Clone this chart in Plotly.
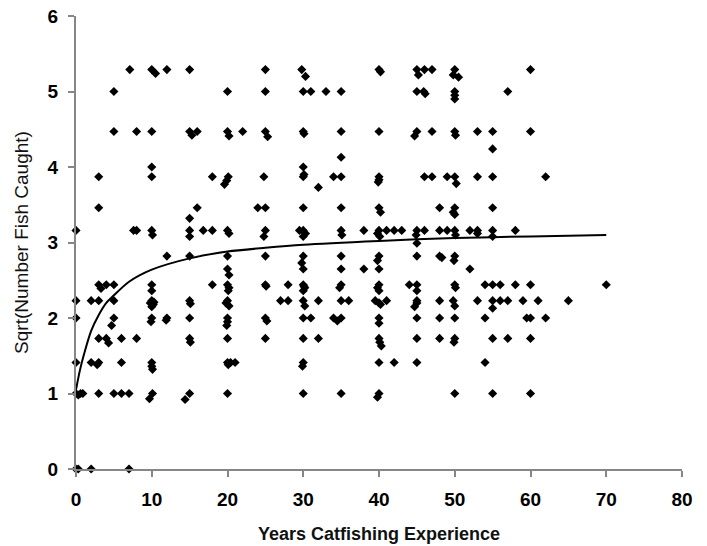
import plotly.graph_objects as go

# (years experience, sqrt(number of fish caught))
points_0_9 = [
    (0, 0), (0.3, 0), (0, 1.0), (0.3, 0.98), (0.6, 1.0), (0.9, 1.0), (0, 1.41), (0, 2.0), (0, 2.23), (0, 3.16),
    (2, 0), (2, 1.41), (2, 2.23),
    (3, 1.0), (2.8, 1.38), (3, 1.41), (3, 1.73), (3, 2.23), (3, 2.44), (3.3, 2.39), (3, 3.46), (3, 3.87),
    (4, 1.73), (4.3, 1.67), (4, 2.44), (4.7, 1.9),
    (5, 1.0), (5, 2.0), (5, 2.23), (5, 2.44), (5, 4.47), (5, 5.0),
    (6, 1.0), (6, 1.41), (6, 1.73),
    (7, 0), (7, 1.0), (7.1, 5.29), (7.6, 3.16),
    (8, 1.73), (8, 3.16), (8, 4.47),
]
points_10_19 = [
    (10, 5.29), (10.5, 5.24), (10, 4.47), (10, 4.0), (10, 3.87), (10, 3.16), (10.1, 3.1), (10, 2.44), (10, 2.36),
    (10, 2.23), (9.8, 2.2), (10.2, 2.18), (10, 2.15), (10.3, 2.21), (10, 2.0), (9.9, 1.95), (10, 1.41), (10, 1.36),
    (10.1, 1.32), (10.1, 1.0), (9.7, 0.93),
    (12, 5.29), (12, 2.82), (12, 2.0), (11.9, 1.97),
    (15, 5.29), (15, 4.47), (15.3, 4.42), (15, 3.32), (15, 3.16), (15, 3.08), (15, 2.82), (15, 2.23), (15.1, 2.19),
    (15, 2.0), (15, 1.73), (15.1, 1.68), (15, 1.0), (14.4, 0.92),
    (16, 4.47), (16, 3.46), (16.8, 3.16),
    (18, 3.87), (18, 3.16), (18, 2.44),
]
points_20_29 = [
    (20, 5.0), (20, 4.47), (20.2, 4.41), (19.6, 3.77), (19.9, 3.82), (20.1, 3.87), (20, 3.16), (20.2, 3.12),
    (20, 2.82), (20, 2.65), (20.2, 2.57), (20, 2.44), (20.2, 2.4), (20.1, 2.36), (20, 2.23), (19.8, 2.2),
    (20.2, 2.16), (20, 2.0), (20, 1.95), (19.9, 1.9), (20, 1.73), (20, 1.41), (20.1, 1.38), (20.4, 1.41),
    (21, 1.41), (20, 1.0),
    (22, 4.47), (24, 3.46),
    (25, 5.29), (25, 5.0), (25, 4.47), (25.3, 4.4), (24.8, 3.87), (25, 3.46), (25, 3.16), (24.8, 3.08),
    (25, 2.82), (25, 2.44), (25.1, 2.42), (25, 2.0), (25.2, 1.96), (25, 1.73),
    (27, 2.23), (28, 2.44), (28, 2.23),
]
points_30_39 = [
    (29.8, 5.29), (30.3, 5.2), (30, 5.0), (30, 4.47), (30.1, 4.44), (30, 4.0), (30.1, 3.9), (30, 3.87),
    (30, 3.46), (29.5, 3.16), (30, 3.16), (30.3, 3.12), (30, 3.08), (30, 2.82), (29.8, 2.73), (30, 2.65),
    (30, 2.44), (30.2, 2.4), (30, 2.36), (30.1, 2.42), (30, 2.23), (30.2, 2.16), (30, 2.0), (30, 1.73),
    (30, 1.41), (29.9, 1.36), (30, 1.0),
    (31, 5.0), (31, 2.0), (32, 3.73), (32, 2.23), (32, 1.73), (33, 5.0),
    (34, 3.87), (34, 2.0), (34.5, 1.96),
    (35, 5.0), (35, 4.47), (35, 4.13), (35, 3.87), (35, 3.46), (35, 3.16), (35.1, 3.1), (35, 2.82), (35, 2.65),
    (35, 2.44), (34.8, 2.4), (35, 2.23), (35, 2.0), (35, 1.0),
    (36, 2.23), (38, 3.16), (38, 2.65),
]
points_40_49 = [
    (40, 5.29), (40.2, 5.26), (40, 4.47), (40, 3.87), (40, 3.83), (39.9, 3.8), (40, 3.46), (40.2, 3.4),
    (40, 3.16), (39.8, 3.12), (40.1, 3.08), (40, 2.82), (39.8, 2.76), (40, 2.65), (40, 2.44), (39.8, 2.4),
    (40, 2.36), (39.5, 2.23), (40, 2.2), (40.2, 2.18), (40, 2.0), (40, 1.93), (40, 1.73), (40.1, 1.68),
    (40.3, 1.63), (40, 1.41), (40, 1.0), (39.8, 0.95),
    (41, 3.16), (41, 2.23), (42, 3.16), (42, 1.41), (43, 3.16),
    (44, 2.44), (44.7, 4.41), (44.7, 2.15),
    (45, 5.29), (45.2, 5.22), (45, 5.0), (45, 4.47), (45, 3.16), (44.9, 3.1), (45, 2.99), (45, 2.82),
    (45, 2.44), (45, 2.36), (45, 2.23), (45, 2.2), (45, 2.0), (45, 1.73), (45, 1.41),
    (46, 5.29), (45.9, 5.0), (46.1, 4.97), (46, 3.87), (46, 3.16),
    (47, 5.29), (47, 4.47), (47, 3.87),
    (48, 3.46), (48, 3.16), (48, 2.82), (48.3, 2.8), (48, 2.23), (48, 2.0), (48, 1.73),
    (49, 3.87), (49, 3.16),
]
points_50_70 = [
    (50, 5.29), (49.8, 5.22), (50.5, 5.19), (50, 5.0), (50, 4.95), (50, 4.9), (50, 4.47), (50.1, 4.42),
    (50, 3.87), (50.2, 3.78), (50, 3.46), (50, 3.37), (49.8, 3.4), (50, 3.16), (50.1, 3.1), (50, 2.82),
    (49.9, 2.76), (50, 2.44), (50.1, 2.4), (49.8, 2.23), (50, 2.16), (50, 2.0), (50, 1.73), (49.9, 1.68),
    (50, 1.0),
    (52, 3.16), (52, 2.65),
    (53, 4.47), (53, 3.87), (53, 3.16), (53, 3.12), (53, 2.23),
    (54, 2.44), (54, 2.0), (54, 1.41),
    (55, 4.47), (55, 4.24), (55, 3.87), (55, 3.46), (55, 3.16), (55, 3.08), (55, 2.44), (55, 2.23),
    (55, 2.13), (55, 1.73), (55, 1.0),
    (56, 2.44), (56, 2.23), (57, 5.0), (57, 2.23), (57, 1.73), (58, 3.16), (58, 2.44),
    (59, 2.23), (59.5, 2.0),
    (60, 5.29), (60, 4.47), (60, 2.44), (60, 2.0), (60, 1.73), (60, 1.0),
    (61, 2.23), (62, 3.87), (62, 2.0), (65, 2.23), (70, 2.44),
]

# fitted curve
fit_years = [0, 0.5, 1, 2, 3, 4, 5, 7, 10, 15, 20, 25, 30, 40, 50, 60, 70]
fit_values = [1.05, 1.3, 1.5, 1.83, 2.04, 2.2, 2.3, 2.48, 2.64, 2.79, 2.88, 2.93, 2.97, 3.02, 3.06, 3.08, 3.10]

x_ticks = [0, 10, 20, 30, 40, 50, 60, 70, 80]
y_ticks = [0, 1, 2, 3, 4, 5, 6]

all_points = points_0_9 + points_10_19 + points_20_29 + points_30_39 + points_40_49 + points_50_70
xs = [p[0] for p in all_points]
ys = [p[1] for p in all_points]

FONT = "Liberation Sans, Arial, sans-serif"

fig = go.Figure()
fig.add_trace(go.Scatter(
    x=xs, y=ys, mode="markers",
    marker=dict(symbol="diamond", size=7, color="black", line=dict(width=0)),
    cliponaxis=False, showlegend=False,
))
fig.add_trace(go.Scatter(
    x=fit_years, y=fit_values, mode="lines",
    line=dict(color="black", width=2, shape="spline", smoothing=0.8),
    showlegend=False,
))

fig.update_layout(
    width=707, height=546,
    margin=dict(l=76, r=25, t=16, b=77),
    paper_bgcolor="white", plot_bgcolor="white",
    font=dict(family=FONT, color="black"),
)
fig.update_xaxes(
    range=[0, 80], tickvals=x_ticks, showgrid=False, zeroline=False, automargin=False,
    showline=True, linecolor="#868686", linewidth=2,
    ticks="outside", ticklen=6, tickwidth=2, tickcolor="#868686",
    tickfont=dict(size=19, family=FONT, color="black", weight="bold"),
    ticklabelstandoff=6, ticklabeloverflow="allow",
    title=dict(text="Years Catfishing Experience",
               font=dict(size=18, family=FONT, color="#111", weight="bold"),
               standoff=19),
)
fig.update_yaxes(
    range=[0, 6], tickvals=y_ticks, showgrid=False, zeroline=False, automargin=False,
    showline=True, linecolor="#868686", linewidth=2,
    ticks="outside", ticklen=6, tickwidth=2, tickcolor="#868686",
    tickfont=dict(size=19, family=FONT, color="black", weight="bold"),
    ticklabelstandoff=6, ticklabeloverflow="allow",
    title=dict(text="Sqrt(Number Fish Caught)",
               font=dict(size=19, family=FONT, color="#111"),
               standoff=14),
)

# remove the browser's default page margin so the figure fills the window exactly
fig.write_html("out.html", config={"displayModeBar": False},
               post_script="document.body.style.margin='0';")
